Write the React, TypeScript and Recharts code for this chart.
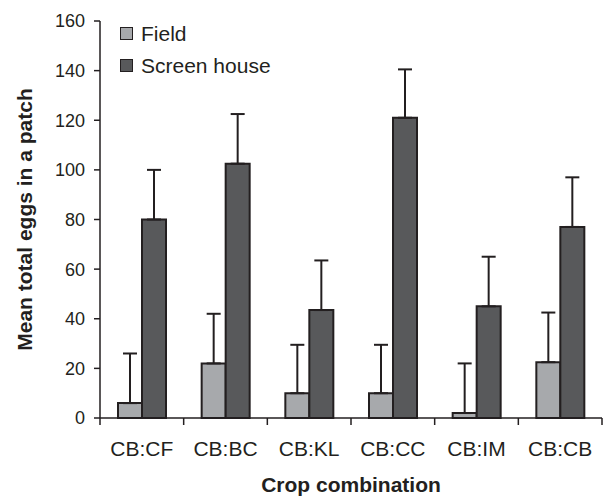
import React from 'react'
import { BarChart, Bar, XAxis, YAxis, ErrorBar, Label } from 'recharts'

const crops = ['CB:CF', 'CB:BC', 'CB:KL', 'CB:CC', 'CB:IM', 'CB:CB']
const fieldEggs = [6, 22, 10, 10, 2, 22.5]
const screenEggs = [80, 102.5, 43.5, 121, 45, 77]
const fieldErr = [20, 20, 19.5, 19.5, 20, 20]
const screenErr = [20, 20, 20, 19.5, 20, 20]
const yTicks = [0, 20, 40, 60, 80, 100, 120, 140, 160]

const data = crops.map((crop, i) => ({
  crop,
  field: fieldEggs[i],
  screen: screenEggs[i],
  fieldErr: [0, fieldErr[i]],
  screenErr: [0, screenErr[i]],
}))

const W = 613
const H = 498
const MARGIN = { top: 21, right: 11, bottom: 0, left: 0 }
const Y_W = 100
const BAND = (W - MARGIN.left - MARGIN.right - Y_W) / crops.length
const INK = '#231f20'
const FONT = '"Liberation Sans", Arial, sans-serif'

const CropTick = (props: any) => {
  const { x, y, payload, index } = props
  const left = x - BAND / 2
  const right = x + BAND / 2
  return (
    <g>
      <line x1={left} y1={y} x2={left} y2={y + 7} stroke={INK} strokeWidth={1.5} />
      {index === crops.length - 1 && (
        <line x1={right} y1={y} x2={right} y2={y + 7} stroke={INK} strokeWidth={1.5} />
      )}
      <text x={x} y={y + 38} textAnchor="middle" fontSize={21} fill={INK} fontFamily={FONT}>
        {payload.value}
      </text>
    </g>
  )
}

const legendItems = [
  { name: 'Field', color: '#a7a9ac' },
  { name: 'Screen house', color: '#58595b' },
]

const LegendBox = () => (
  <div
    style={{
      position: 'absolute',
      left: 120,
      top: 17,
      fontFamily: FONT,
      fontSize: 21,
      color: INK,
      lineHeight: 1,
    }}
  >
    {legendItems.map((it) => (
      <div key={it.name} style={{ display: 'flex', alignItems: 'center', height: 32 }}>
        <span
          style={{
            display: 'inline-block',
            width: 11,
            height: 11,
            background: it.color,
            border: `1.5px solid ${INK}`,
            marginRight: 8,
          }}
        />
        {it.name}
      </div>
    ))}
  </div>
)

export default function App() {
  return (
    <div style={{ position: 'absolute', left: 0, top: 0, width: W, height: H, background: '#fff' }}>
      <BarChart width={W} height={H} data={data} margin={MARGIN} barGap={0} barSize={24}>
        <XAxis
          dataKey="crop"
          height={80}
          stroke={INK}
          strokeWidth={1.5}
          tickLine={false}
          tickSize={0}
          tickMargin={0}
          tick={<CropTick />}
          interval={0}
        >
          <Label
            value="Crop combination"
            position="insideBottom"
            offset={6}
            style={{ fontFamily: FONT, fontSize: 21, fontWeight: 'bold', fill: INK }}
          />
        </XAxis>
        <YAxis
          width={Y_W}
          domain={[0, 160]}
          ticks={yTicks}
          interval={0}
          stroke={INK}
          strokeWidth={1.5}
          tickSize={6}
          tickMargin={9}
          tick={{ fontFamily: FONT, fontSize: 18, fill: INK }}
        >
          <Label
            value="Mean total eggs in a patch"
            angle={-90}
            position="insideLeft"
            offset={25}
            style={{ fontFamily: FONT, fontSize: 21, fontWeight: 'bold', fill: INK, textAnchor: 'middle' }}
          />
        </YAxis>
        <Bar dataKey="field" name="Field" fill="#a7a9ac" stroke={INK} strokeWidth={2} isAnimationActive={false}>
          <ErrorBar dataKey="fieldErr" width={7} stroke={INK} strokeWidth={2} direction="y" />
        </Bar>
        <Bar dataKey="screen" name="Screen house" fill="#58595b" stroke={INK} strokeWidth={2} isAnimationActive={false}>
          <ErrorBar dataKey="screenErr" width={7} stroke={INK} strokeWidth={2} direction="y" />
        </Bar>
      </BarChart>
      <LegendBox />
    </div>
  )
}
